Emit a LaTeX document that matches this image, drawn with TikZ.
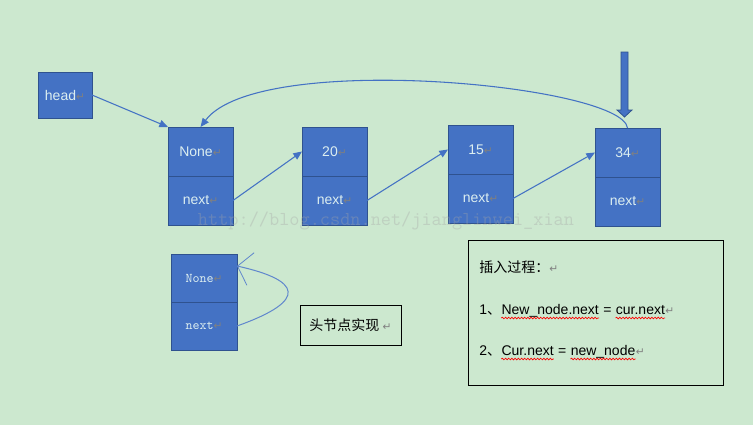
\documentclass[tikz,border=0pt]{standalone}
\usepackage{fontspec}
\setmainfont{Liberation Sans}
\newfontfamily\cjkfont{Noto Sans CJK SC}
\newfontfamily\markfont{DejaVu Sans}
\usetikzlibrary{arrows.meta, positioning, decorations.pathmorphing}
\definecolor{bgreen}{HTML}{CCE8CF}
\definecolor{cellblue}{HTML}{4472C4}
\definecolor{cellline}{HTML}{2F528F}
\definecolor{celltext}{HTML}{DCEEF0}
\definecolor{markgray}{HTML}{808080}
\newcommand{\retmark}{{\markfont\color{markgray}\fontsize{8}{9}\selectfont ↵}}

\begin{document}
\begin{tikzpicture}[x=0.75pt, y=-0.75pt, >={Triangle[length=6.5pt, width=5.5pt]},
  every node/.style={font=\fontsize{10.5}{12}\selectfont},
  cell/.style={draw=cellline, fill=cellblue, line width=0.75pt, text=celltext, minimum width=48.75pt, minimum height=36.75pt, outer sep=0pt, inner sep=0pt},
  link/.style={->, cellblue, line width=0.8pt},
  txt/.style={inner sep=0pt, anchor=base west, text=black},
  wavy/.style={red, line width=0.5pt, decorate, decoration={snake, amplitude=0.6pt, segment length=2.4pt}}]

% background
\fill[bgreen] (0,0) rectangle (753,425);
\useasboundingbox (0,0) rectangle (753,425);

% head pointer
\node[cell, minimum width=40.5pt, minimum height=34.5pt] (head) at (65,95) {head\retmark};

% linked list
\node[cell] (v1) at (200.5,151.5) {None\retmark};
\node[cell, below=0pt of v1] (x1) {next\retmark};
\node[cell, right=51.75pt of v1] (v2) {20\retmark};
\node[cell, below=0pt of v2] (x2) {next\retmark};
\node[cell, right=60.75pt of v2, yshift=1.5pt] (v3) {15\retmark};
\node[cell, below=0pt of v3] (x3) {next\retmark};
\node[cell, right=61.5pt of v3, yshift=-2.25pt] (v4) {34\retmark};
\node[cell, below=0pt of v4] (x4) {next\retmark};

% links
\draw[link] (head.east) -- (v1.north west);
\draw[link] (x1.east) -- (v2.west);
\draw[link] (x2.east) -- (v3.west);
\draw[link] (x3.east) -- (v4.west);
\draw[link] (v4.north) .. controls +(-5,-43) and +(58,-77) .. (v1.north);

% insert position
\coordinate (ptr) at (624.5,52);
\draw[fill=cellblue, draw=cellline, line width=0.6pt] (ptr) ++(-3.5,0) -- ++(7,0) -- ++(0,58) -- ++(4,0) -- ++(-7.5,7) -- ++(-7.5,-7) -- ++(4,0) -- cycle;

% head node
\node[cell, minimum width=49.5pt, minimum height=36pt, font=\ttfamily\fontsize{10}{12}\selectfont] (lv) at (204,278) {None\retmark};
\node[cell, minimum width=49.5pt, minimum height=36pt, font=\ttfamily\fontsize{10}{12}\selectfont, below=0pt of lv] (lx) {next\retmark};
\draw[cellblue!85, line width=0.75pt, -{Straight Barb[length=10pt, width=25pt, line width=0.6pt]}] (lx.east) .. controls (310,300) and (300,280) .. ([yshift=9pt]lv.east);
\node[draw=black, line width=0.75pt, minimum width=75.75pt, minimum height=30pt, font=\cjkfont\fontsize{10.5}{12}\selectfont] (cap) at (350.5,325) {头节点实现 \retmark};

% insert steps
\node[draw=black, line width=0.75pt, minimum width=191.25pt, minimum height=108.75pt, inner sep=0pt] (proc) at (595.5,312.5) {};
\node[txt, font=\cjkfont\fontsize{10.5}{12}\selectfont] (s0) at (479,272) {插入过程：\retmark};
\node[txt] (s1n) at (479,314) {1{\cjkfont 、}};
\node[txt] (s1a) at (s1n.base east) {New\_node.next};
\node[txt] (s1b) at (s1a.base east) {\ =\ \kern0pt};
\node[txt] (s1c) at (s1b.base east) {cur.next};
\node[txt] (s1m) at (s1c.base east) {\retmark};
\node[txt] (s2n) at (479,355) {2{\cjkfont 、}};
\node[txt] (s2a) at (s2n.base east) {Cur.next};
\node[txt] (s2b) at (s2a.base east) {\ =\ \kern0pt};
\node[txt] (s2c) at (s2b.base east) {new\_node};
\node[txt] (s2m) at (s2c.base east) {\retmark};
\draw[wavy] ([yshift=-3pt]s1a.base west) -- ([yshift=-3pt]s1a.base east);
\draw[wavy] ([yshift=-3pt]s1c.base west) -- ([yshift=-3pt]s1c.base east);
\draw[wavy] ([yshift=-3pt]s2a.base west) -- ([yshift=-3pt]s2a.base east);
\draw[wavy] ([yshift=-3pt]s2c.base west) -- ([yshift=-3pt]s2c.base east);

% watermark
\node[text=black!35, opacity=0.35, font=\ttfamily\fontsize{14.8}{16}\selectfont] (wm) at (386,221) {http://blog.csdn.net/jianglinwei\_xian};

\end{tikzpicture}
\end{document}
